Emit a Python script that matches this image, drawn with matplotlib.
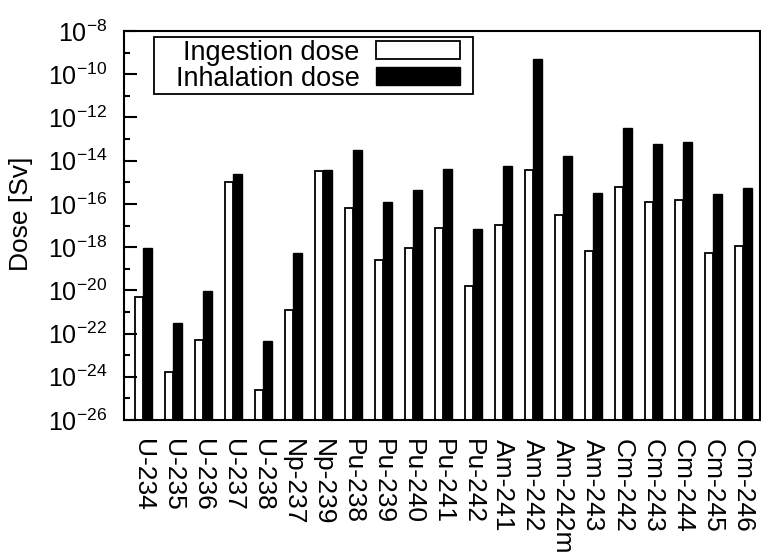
import numpy as np
import matplotlib.pyplot as plt
from matplotlib.patches import Patch, Rectangle

plt.rcParams['font.family'] = ['Liberation Sans', 'DejaVu Sans']
plt.rcParams['mathtext.fontset'] = 'custom'
plt.rcParams['mathtext.rm'] = 'Liberation Sans'
plt.rcParams['mathtext.it'] = 'Liberation Sans'

nuclides = ['U-234', 'U-235', 'U-236', 'U-237', 'U-238', 'Np-237', 'Np-239',
            'Pu-238', 'Pu-239', 'Pu-240', 'Pu-241', 'Pu-242', 'Am-241',
            'Am-242', 'Am-242m', 'Am-243', 'Cm-242', 'Cm-243', 'Cm-244',
            'Cm-245', 'Cm-246']
# log10 of dose [Sv]
ingestion_exp = [-20.33, -23.8, -22.3, -15.0, -24.6, -20.9, -14.5,
                 -16.18, -18.6, -18.03, -17.1, -19.8, -16.98,
                 -14.44, -16.52, -18.19, -15.21, -15.92, -15.81,
                 -18.25, -17.95]
inhalation_exp = [-18.03, -21.5, -20.05, -14.6, -22.35, -18.25, -14.44,
                  -13.52, -15.93, -15.36, -14.4, -17.15, -14.25,
                  -9.31, -13.79, -15.48, -12.49, -13.23, -13.12,
                  -15.55, -15.27]

ingestion = 10.0 ** np.array(ingestion_exp)
inhalation = 10.0 ** np.array(inhalation_exp)
x = np.arange(len(nuclides))

fig = plt.figure(figsize=(7.61, 5.56), dpi=100)
ax = fig.add_axes([0.163, 0.2446, 0.8357, 0.6996])

base = 1e-30
ax.bar(x, ingestion - base, width=-0.26, align='edge', bottom=base,
       color='white', edgecolor='black', linewidth=1.3)
ax.bar(x, inhalation - base, width=0.31, align='edge', bottom=base,
       color='black', edgecolor='black', linewidth=1.0)

ax.set_yscale('log')
ax.set_ylim(1e-26, 1e-8)
ax.set_xlim(-0.62, 20.58)

ax.set_yticks([10.0 ** e for e in range(-26, -7, 2)])
ax.set_yticklabels(['$10^{%d}$' % e for e in range(-26, -7, 2)])
ax.set_yticks([10.0 ** e for e in range(-25, -8, 2)], minor=True)
ax.yaxis.set_minor_formatter(plt.NullFormatter())
ax.tick_params(axis='y', which='major', direction='in', length=9, width=1.5,
               labelsize=18, pad=12)
ax.tick_params(axis='y', which='minor', direction='in', length=4.5, width=1.5)

ax.set_xticks(x)
ax.set_xticklabels(nuclides, rotation=-90)
ax.tick_params(axis='x', length=0, labelsize=19, pad=14)

for s in ax.spines.values():
    s.set_linewidth(1.5)

ax.set_ylabel('Dose [Sv]', fontsize=19)
ax.yaxis.set_label_coords(-0.143, 0.53)

handles = [Patch(facecolor='white', edgecolor='black', linewidth=1.3),
           Patch(facecolor='black', edgecolor='black')]
leg = ax.legend(handles, ['Ingestion dose', 'Inhalation dose'],
                loc='upper left', bbox_to_anchor=(0.077, 0.985),
                fontsize=19.5, markerfirst=False, frameon=False,
                handlelength=3.1, handleheight=0.6, handletextpad=0.6,
                borderpad=0.1, labelspacing=0.0, borderaxespad=0)

# gnuplot-style key box: wider margins left/right than top/bottom
fig.canvas.draw()
bb = leg.get_window_extent()
fig.patches.append(Rectangle((bb.x0 - 19, bb.y0), bb.width + 29, bb.height,
                             transform=None, facecolor='none',
                             edgecolor='black', linewidth=1.3))

fig.savefig('out.png', dpi=100)
